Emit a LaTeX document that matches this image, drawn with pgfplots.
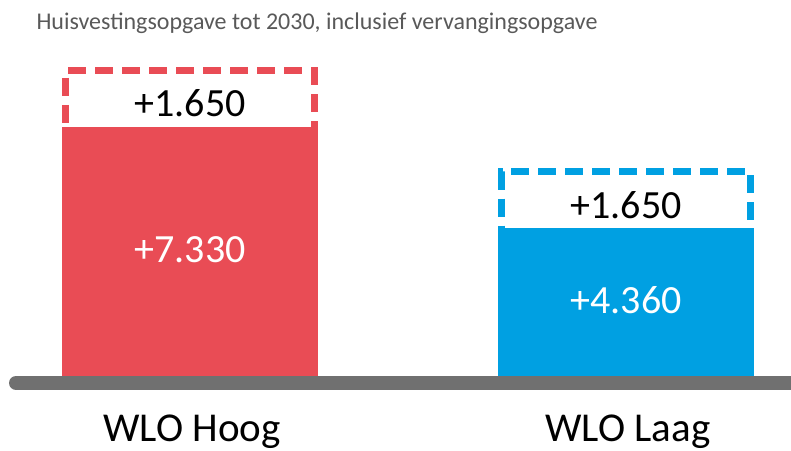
\documentclass[border=0pt]{standalone}
\usepackage{pgfplots}
\pgfplotsset{compat=1.18}
\usepackage{fontspec}
\setmainfont{Carlito}
\definecolor{barred}{HTML}{E94C55}
\definecolor{barblue}{HTML}{00A0E2}
\definecolor{basegray}{HTML}{707070}
\definecolor{titlegray}{HTML}{595959}
\begin{document}
\begin{tikzpicture}
\begin{axis}[
  scale only axis, width=791bp, height=451bp,
  xmin=0, xmax=791, ymin=-2208, ymax=11069,
  hide axis,
]
% dashed boxes (total = base + vervangingsopgave)
\addplot[ybar, bar shift=0pt, bar width=249, fill=white, draw=barred, line width=7bp, dash pattern=on 18bp off 9bp] coordinates {(190,8980)};
\addplot[ybar, bar shift=0pt, bar width=249, fill=white, draw=barblue, line width=7bp, dash pattern=on 18bp off 9bp] coordinates {(626,6010)};
% solid bars
\addplot[ybar, bar shift=0pt, bar width=256, fill=barred, draw=none] coordinates {(190,7330)};
\addplot[ybar, bar shift=0pt, bar width=256, fill=barblue, draw=none] coordinates {(626,4360)};
% baseline
\draw[basegray, line width=14bp, line cap=round] (axis cs:16,-206) -- (axis cs:830,-206);
% texts
\node[anchor=west, text=titlegray, font=\fontsize{24bp}{28bp}\selectfont] at (axis cs:33,10380) {Huisvestingsopgave tot 2030, inclusief vervangingsopgave};
\node[font=\fontsize{40bp}{48bp}\selectfont, text=black] at (axis cs:190,8037) {+1.650};
\node[font=\fontsize{40bp}{48bp}\selectfont, text=white] at (axis cs:190,3709) {+7.330};
\node[font=\fontsize{40bp}{48bp}\selectfont, text=black] at (axis cs:626,5034) {+1.650};
\node[font=\fontsize{40bp}{48bp}\selectfont, text=white] at (axis cs:626,2237) {+4.360};
\node[font=\fontsize{41bp}{50bp}\selectfont, text=black] at (axis cs:192,-1649) {WLO Hoog};
\node[font=\fontsize{41bp}{50bp}\selectfont, text=black] at (axis cs:628,-1649) {WLO Laag};
\end{axis}
\pgfresetboundingbox
\path[use as bounding box] (current axis.south west) rectangle (current axis.north east);
\end{tikzpicture}
\end{document}
